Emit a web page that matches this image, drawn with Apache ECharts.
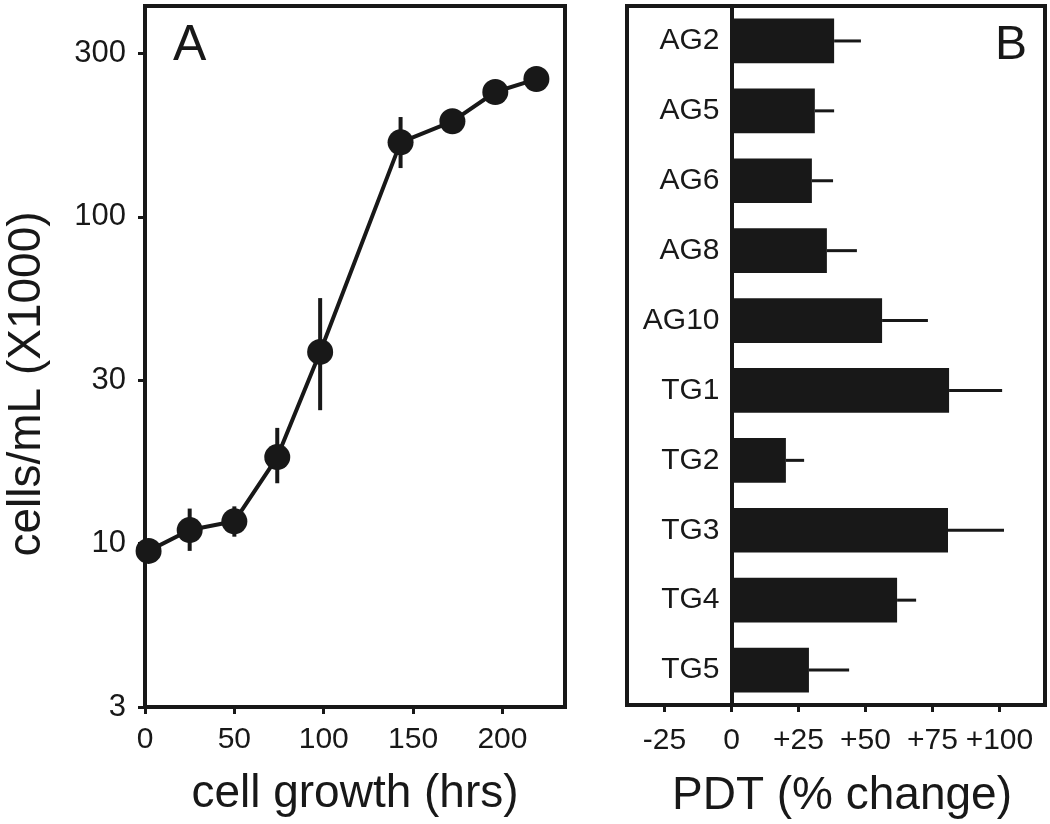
<!DOCTYPE html>
<html><head><meta charset="utf-8">
<script src="https://cdn.jsdelivr.net/npm/echarts@6/dist/echarts.min.js"></script>
<style>html,body{margin:0;padding:0;background:#fff}#c{width:1050px;height:824px}</style>
</head><body><div id="c"></div>
<script>
// Panel A: growth curve
const hours = [2, 25, 50, 74, 98, 143, 172, 196, 219];
const cells = [9.5, 11.0, 11.7, 18.4, 38.6, 169, 196, 241, 264];
const cellsLow = [9.5, 9.5, 10.5, 15.3, 25.6, 141, 196, 241, 264];
const cellsHigh = [9.5, 12.8, 13.0, 22.6, 56.4, 202, 196, 241, 264];
const xTickValuesA = [0, 50, 100, 150, 200];
const yTickValuesA = [3.1623, 10, 31.623, 100, 316.23];
const yTickLabelsA = ['3', '10', '30', '100', '300'];
// Panel B: PDT change
const groups = ['AG2', 'AG5', 'AG6', 'AG8', 'AG10', 'TG1', 'TG2', 'TG3', 'TG4', 'TG5'];
const pdt = [38.3, 31.1, 30.0, 35.6, 56.2, 81.2, 20.3, 80.8, 61.8, 28.9];
const pdtHigh = [48.3, 38.3, 37.9, 46.8, 73.3, 101.0, 27.1, 101.7, 68.9, 43.9];
const xTickValuesB = [-25, 0, 25, 50, 75, 100];
const xTickLabelsB = ['-25', '0', '+25', '+50', '+75', '+100'];

const ink = '#181818';
const font = 'Liberation Sans, Arial, Helvetica, sans-serif';
const chart = echarts.init(document.getElementById('c'));

const gridB = { left: 627, top: 6, width: 418, height: 699 };
const xMinB = -39, xMaxB = 117;

function yLabelA(v) {
  for (let i = 0; i < yTickValuesA.length; i++) {
    if (Math.abs(Math.log10(v) - Math.log10(yTickValuesA[i])) < 0.01) return yTickLabelsA[i];
  }
  return '';
}
function xLabelB(v) {
  const i = xTickValuesB.indexOf(Math.round(v));
  return i >= 0 ? xTickLabelsB[i] : '';
}

chart.setOption({
  backgroundColor: '#fff',
  animation: false,
  textStyle: { fontFamily: font, color: ink },
  grid: [
    { left: 145, top: 6, width: 420, height: 701, show: true, borderColor: ink, borderWidth: 4, backgroundColor: 'transparent' },
    Object.assign({ show: true, borderColor: ink, borderWidth: 4, backgroundColor: 'transparent' }, gridB)
  ],
  xAxis: [
    {
      type: 'value', gridIndex: 0, min: 0, max: 235,
      splitLine: { show: false },
      axisLine: { show: false },
      axisTick: { show: true, length: 7, lineStyle: { color: ink, width: 3 }, customValues: xTickValuesA },
      axisLabel: { customValues: xTickValuesA, fontSize: 30, color: ink, margin: 18, fontFamily: font },
      name: 'cell growth (hrs)', nameLocation: 'middle', nameGap: 64,
      nameTextStyle: { fontSize: 46, color: ink, fontFamily: font }
    },
    {
      type: 'value', gridIndex: 1, min: xMinB, max: xMaxB,
      splitLine: { show: false },
      axisLine: { show: false },
      axisTick: { show: true, length: 7, lineStyle: { color: ink, width: 3 }, customValues: xTickValuesB },
      axisLabel: { customValues: xTickValuesB, fontSize: 30, color: ink, margin: 21, fontFamily: font, formatter: xLabelB },
      name: 'PDT (% change)', nameLocation: 'middle', nameGap: 68,
      nameTextStyle: { fontSize: 46, color: ink, fontFamily: font, padding: [0, 0, 0, 12] }
    }
  ],
  yAxis: [
    {
      type: 'log', logBase: 10, gridIndex: 0, min: 3.1623, max: 441.7,
      splitLine: { show: false },
      minorTick: { show: false }, minorSplitLine: { show: false },
      axisLine: { show: false },
      axisTick: { show: true, length: 7, lineStyle: { color: ink, width: 3 }, customValues: yTickValuesA },
      axisLabel: { customValues: yTickValuesA, fontSize: 31, color: ink, margin: 19, fontFamily: font, formatter: yLabelA }
    },
    {
      type: 'category', gridIndex: 1, data: groups, inverse: true,
      // place the category axis (line + labels) at the zero of the value axis
      offset: -(0 - xMinB) / (xMaxB - xMinB) * gridB.width,
      axisLine: { show: true, onZero: false, lineStyle: { color: ink, width: 4 } },
      axisTick: { show: false },
      splitLine: { show: false },
      axisLabel: { fontSize: 30, color: ink, margin: 12, fontFamily: font }
    }
  ],
  graphic: [
    { type: 'text', left: 173, top: 21, style: { text: 'A', fontSize: 50, fill: ink, fontFamily: font } },
    { type: 'text', left: 995, top: 22, style: { text: 'B', fontSize: 48, fill: ink, fontFamily: font } },
    { type: 'text', x: 27, y: 384, rotation: Math.PI / 2,
      style: { text: 'cells/mL (X1000)', fontSize: 46, fill: ink, fontFamily: font, align: 'center', verticalAlign: 'middle' } }
  ],
  series: [
    {
      type: 'custom', xAxisIndex: 0, yAxisIndex: 0, z: 3,
      data: hours.map((h, i) => [h, cellsLow[i], cellsHigh[i]]),
      encode: { x: 0, y: [1, 2] },
      renderItem: function (params, api) {
        const lo = api.value(1), hi = api.value(2);
        if (!(hi > lo)) return null;
        const a = api.coord([api.value(0), lo]);
        const b = api.coord([api.value(0), hi]);
        return { type: 'line', shape: { x1: a[0], y1: a[1], x2: b[0], y2: b[1] }, style: { stroke: ink, lineWidth: 4 } };
      }
    },
    {
      type: 'line', xAxisIndex: 0, yAxisIndex: 0, z: 4, clip: false,
      data: hours.map((h, i) => [h, cells[i]]),
      symbol: 'circle', symbolSize: 26,
      lineStyle: { color: ink, width: 4 },
      itemStyle: { color: ink }
    },
    {
      type: 'custom', xAxisIndex: 1, yAxisIndex: 1, z: 3,
      data: groups.map((g, i) => [i, pdt[i], pdtHigh[i]]),
      encode: { y: 0, x: [1, 2] },
      renderItem: function (params, api) {
        const a = api.coord([api.value(1), api.value(0)]);
        const b = api.coord([api.value(2), api.value(0)]);
        return { type: 'line', shape: { x1: a[0], y1: a[1], x2: b[0], y2: b[1] }, style: { stroke: ink, lineWidth: 3 } };
      }
    },
    {
      type: 'bar', xAxisIndex: 1, yAxisIndex: 1, z: 4,
      data: pdt, barWidth: '64%',
      itemStyle: { color: ink }
    }
  ]
});
</script>
</body></html>
